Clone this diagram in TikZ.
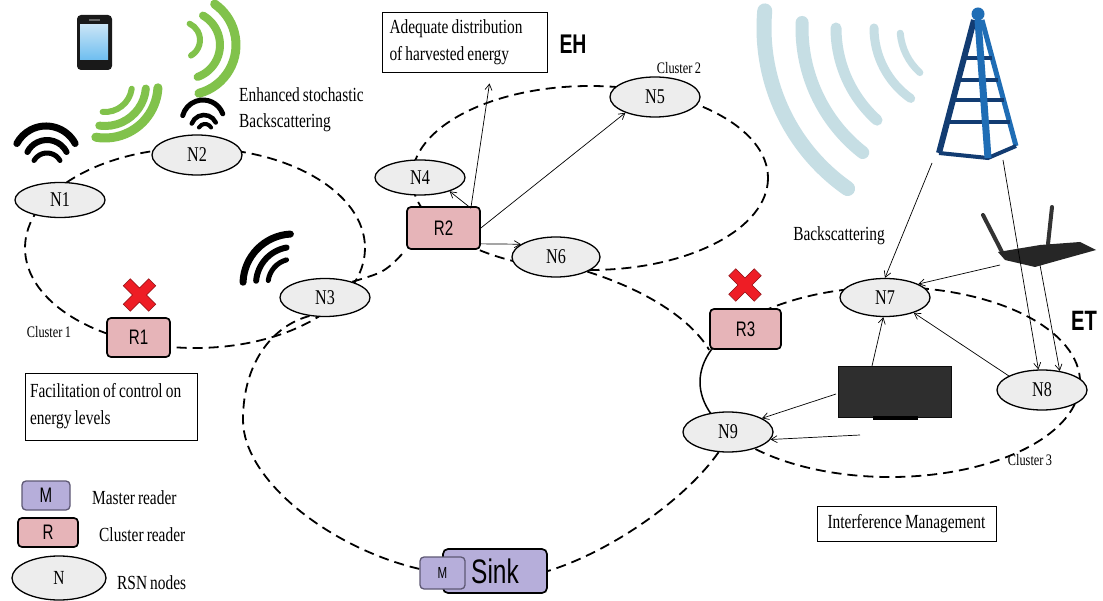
\documentclass[tikz,border=0pt]{standalone}
\usepackage{fontspec}
\setmainfont{Liberation Serif}[FakeStretch=0.77, WordSpace=0.8]
\setsansfont{Liberation Sans}[FakeStretch=0.72, WordSpace=0.8]
\usetikzlibrary{shapes.geometric,arrows.meta,calc}
\pgfdeclarelayer{background}
\pgfsetlayers{background,main}

\definecolor{nodefill}{HTML}{EDEDED}
\definecolor{readerfill}{HTML}{E6B4B8}
\definecolor{masterfill}{HTML}{B6AEDA}
\definecolor{masterline}{HTML}{5E5874}
\definecolor{wavegreen}{HTML}{74BC38}
\definecolor{waveblue}{HTML}{A8CDD7}
\definecolor{towerdark}{HTML}{123C72}
\definecolor{towerblue}{HTML}{1F6DB5}
\definecolor{xred}{HTML}{EE1D25}

% one circular arc: options, centre x, centre y, radius, start angle, end angle
\newcommand{\sigarc}[6]{\draw[#1] ($(#2,#3)+(#5:#4)$) arc[start angle=#5, end angle=#6, radius=#4];}
% red cross marking a failed reader
\newcommand{\redcross}[2]{%
  \begin{scope}[shift={(#1,#2)}, rotate=45]
    \filldraw[fill=xred, draw=xred!60!black, line width=0.5pt]
      (-5,-18) -- (5,-18) -- (5,-5) -- (18,-5) -- (18,5) -- (5,5) -- (5,18)
      -- (-5,18) -- (-5,5) -- (-18,5) -- (-18,-5) -- (-5,-5) -- cycle;
  \end{scope}}

\tikzset{
  rsn/.style={ellipse, draw, line width=1.3pt, fill=nodefill, minimum width=90pt,
    minimum height=38pt, inner sep=0pt, font=\fontsize{21}{21}\selectfont},
  reader/.style={rectangle, rounded corners=4pt, draw, line width=1.7pt, fill=readerfill,
    inner sep=0pt, font=\sffamily\fontsize{21}{21}\selectfont},
  master/.style={rectangle, rounded corners=4pt, draw=masterline, line width=1.3pt,
    fill=masterfill, inner sep=0pt, font=\sffamily\fontsize{21}{21}\selectfont},
  loopline/.style={line width=1.8pt, dash pattern=on 10pt off 6pt},
  arr/.style={line width=0.7pt, -{Straight Barb[length=6pt,width=7pt]}},
  note/.style={draw, line width=0.9pt, inner sep=0pt, font=\fontsize{20}{27}\selectfont},
  lbl/.style={font=\fontsize{20}{26}\selectfont, inner sep=0pt},
  smalllbl/.style={font=\fontsize{16}{16}\selectfont, inner sep=0pt},
  wifi/.style={line cap=round, black},
  gwave/.style={line cap=round, wavegreen, opacity=0.9},
  bwave/.style={line cap=round, waveblue, opacity=0.65},
}

\begin{document}
\begin{tikzpicture}[x=1pt,y=-1pt]
\useasboundingbox (0,0) rectangle (1103,601);

% ---------- device icons and radio waves ----------
% phone
\fill[black!90, rounded corners=4pt] (77,15) rectangle (112,70);
\shade[top color={rgb,255:red,200;green,228;blue,246}, middle color={rgb,255:red,40;green,130;blue,214},
  bottom color={rgb,255:red,110;green,190;blue,240}] (80,25) rectangle (108,60);
\fill[black!60] (89,19) rectangle (100,21);

% green waves
\sigarc{gwave, line width=9pt}{186}{45}{50}{75}{-55}
\sigarc{gwave, line width=8pt}{186}{45}{34}{70}{-60}
\sigarc{gwave, line width=6pt}{182}{40}{18}{60}{-65}
\sigarc{gwave, line width=9pt}{105}{85}{53}{3}{100}
\sigarc{gwave, line width=8pt}{105}{85}{41}{5}{98}
\sigarc{gwave, line width=6pt}{105}{85}{27}{8}{95}

% black wifi marks
\sigarc{wifi, line width=7pt}{46}{159}{33}{-28}{-152}
\sigarc{wifi, line width=6pt}{47}{162}{22}{-27}{-153}
\sigarc{wifi, line width=5pt}{47}{168}{15}{-30}{-150}
\sigarc{wifi, line width=5pt}{203}{121}{21}{-20}{-165}
\sigarc{wifi, line width=4.5pt}{204}{128}{13}{-25}{-160}
\sigarc{wifi, line width=4pt}{205}{131}{7}{-30}{-150}
\sigarc{wifi, line width=7pt}{293}{284}{50}{-93}{-178}
\sigarc{wifi, line width=6pt}{293}{284}{37}{-100}{-175}
\sigarc{wifi, line width=5pt}{293}{284}{25}{-105}{-172}

% blue waves from the tower
\sigarc{bwave, line width=15pt}{960}{28}{196}{-175}{-235}
\sigarc{bwave, line width=13pt}{960}{28}{158}{-178}{-232}
\sigarc{bwave, line width=11pt}{960}{28}{124}{-180}{-228}
\sigarc{bwave, line width=9pt}{960}{28}{86}{-180}{-235}
\sigarc{bwave, line width=7pt}{960}{28}{60}{-185}{-228}

% tower
\draw[towerdark, line width=6pt] (974,20) -- (939,153);
\draw[towerblue, line width=5pt] (982,20) -- (1016,146);
\draw[towerdark, line width=3.5pt] (964,58) -- (992,58) (958,80) -- (998,80)
  (953,100) -- (1004,100) (947,122) -- (1010,122);
\draw[towerdark, line width=4pt] (939,153) -- (988,158) -- (1016,146);
\draw[towerblue, line width=7pt] (978,20) -- (988,158);
\fill[towerblue] (978,14) circle[radius=6.5];

% router
\draw[black!80, line width=4pt, line cap=round] (983,215) -- (1002,252) (1052,207) -- (1048,244);
\fill[black!85] (998,252) -- (1040,245) -- (1080,242) -- (1096,250) -- (1060,260)
  -- (1035,267) -- (1005,260) -- cycle;

% television
\filldraw[fill=black!82, draw=black!95, line width=0.8pt] (838,366) rectangle (951,417);
\fill[black] (873,416) rectangle (918,420);

% ---------- nodes ----------
\node[rsn, minimum height=35pt] (N1) at (60,200) {N1};
\node[rsn, minimum height=40pt] (N2) at (197,155) {N2};
\node[rsn] (N3) at (325,297.5) {N3};
\node[rsn, minimum height=35pt] (N4) at (420,177.5) {N4};
\node[rsn, minimum height=40pt] (N5) at (655,97) {N5};
\node[rsn, minimum width=88pt, minimum height=40pt] (N6) at (556,257) {N6};
\node[rsn] (N7) at (885,297.5) {N7};
\node[rsn, minimum height=40pt] (N8) at (1042,390) {N8};
\node[rsn, minimum height=40pt] (N9) at (728,432) {N9};

\node[reader, minimum width=63pt, minimum height=39pt] (R1) at (138.5,337.5) {R1};
\node[reader, minimum width=73pt, minimum height=42pt] (R2) at (443.5,228) {R2};
\node[reader, minimum width=71pt, minimum height=40pt] (R3) at (745.5,329) {R3};

\node[master, draw=black, line width=1.7pt, rounded corners=5pt, minimum width=104pt,
  minimum height=44pt, font=\sffamily\fontsize{34}{34}\selectfont] (sink) at (495,571) {Sink};
\node[master, minimum width=45pt, minimum height=32pt, font=\sffamily\fontsize{16}{16}\selectfont]
  (sinkM) at (442.5,573) {M};

\redcross{139.5}{295}
\redcross{745}{285}

% ---------- cluster loops ----------
\begin{pgfonlayer}{background}
  \fill[white] (0,0) rectangle (1103,601);
  \draw[loopline] (195,248) ellipse[x radius=170, y radius=100];
  \draw[loopline] (590,178) ellipse[x radius=178, y radius=92];
  \draw[loopline] ($(890,382)+(-160:190 and 95)$) arc[start angle=-160, end angle=160,
    x radius=190, y radius=95];
  \draw[loopline] (N3.30) .. controls (385,272) .. (R2.south west);
  \draw[loopline] (N6.-25) .. controls (645,290) and (690,318) .. (R3.south west);
  \draw[loopline] (N9.-115) .. controls (685,500) and (610,552) .. (sink.east);
  \draw[loopline] (sinkM.170) .. controls (330,548) and (243,480) .. (243,420)
    .. controls (243,360) and (275,325) .. (N3.-130);
  % solid stretch of cluster 3 between R3 and N9
  \draw[line width=1.5pt] ($(890,382)+(160:190 and 95)$) arc[start angle=160, end angle=200,
    x radius=190, y radius=95];
\end{pgfonlayer}

% ---------- texts ----------
\node[lbl, align=left, anchor=west] (enh) at (239,109.5) {Enhanced stochastic\\Backscattering};
\node[note, align=left, text width=150pt, inner xsep=7.5pt, minimum height=60pt]
  (adq) at (464.5,42) {\spaceskip=0pt\relax Adequate distribution\\of harvested energy};
\node[note, align=left, text width=162pt, inner xsep=5pt, minimum height=67pt]
  (fac) at (111,406.5) {\spaceskip=0pt\relax Facilitation of control on\\energy levels};
\node[note, minimum width=179pt, minimum height=35pt] (imt) at (906.5,523.5) {Interference Management};
\node[font=\sffamily\bfseries\fontsize{27}{27}\selectfont, inner sep=0pt] (eh) at (573,44) {EH};
\node[font=\sffamily\bfseries\fontsize{28}{28}\selectfont, inner sep=0pt] (et) at (1084,321) {ET};
\node[smalllbl] (c1) at (49,332) {Cluster 1};
\node[smalllbl] (c2) at (679,68) {Cluster 2};
\node[smalllbl] (c3) at (1030,460) {Cluster 3};
\node[lbl] (bsc) at (839,236) {Backscattering};

% legend
\node[master, minimum width=48pt, minimum height=29pt] (legM) at (46,495.5) {M};
\node[reader, minimum width=60pt, minimum height=29pt] (legR) at (48,532.5) {R};
\node[rsn, minimum width=94pt, minimum height=44pt, font=\fontsize{20}{20}\selectfont] (legN) at (59,578) {N};
\node[lbl, anchor=west] (legMt) at (92,498) {Master reader};
\node[lbl, anchor=west] (legRt) at (99,535) {Cluster reader};
\node[lbl, anchor=west] (legNt) at (117,583) {RSN nodes};

% ---------- links ----------
\coordinate (towL) at (932,163);
\coordinate (towR) at (1003,160);
\coordinate (rtrA) at (1000,265);
\coordinate (rtrB) at (1040,265);
\coordinate (tvT) at (872,366);
\coordinate (tvL) at (836,394);
\coordinate (tvB) at (860,435);
\coordinate (r2top) at ([xshift=-10pt,yshift=-2pt]R2.north east);

\draw[arr] (r2top) -- (N4.-25);
\draw[arr] (r2top) -- ([xshift=25pt,yshift=-11pt]adq.south);
\draw[arr] (R2.east) -- (N5.-152);
\draw[arr] ([yshift=6pt]R2.south east) -- (N6.160);
\draw[arr] (towL) -- (N7.north);
\draw[arr] (towR) -- (N8.100);
\draw[arr] (rtrA) -- (N7.22);
\draw[arr] (rtrB) -- (N8.47);
\draw[arr] (tvT) -- (N7.-95);
\draw[arr] (N8.157) -- (N7.-28);
\draw[arr] (tvL) -- (N9.22);
\draw[arr] (tvB) -- (N9.-10);
\end{tikzpicture}
\end{document}
